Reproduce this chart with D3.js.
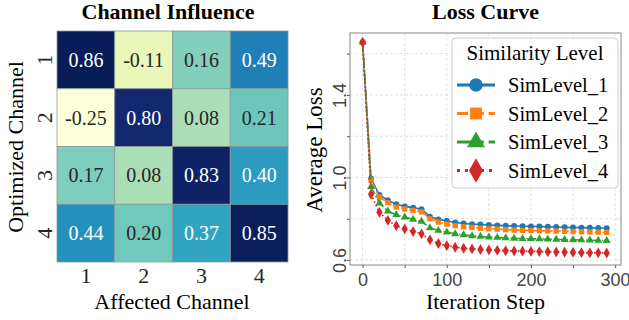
<!DOCTYPE html>
<html>
<head>
<meta charset="utf-8">
<script src="https://cdn.jsdelivr.net/npm/d3@7"></script>
<style>
  body { margin: 0; background: #fff; }
  svg { display: block; }
</style>
</head>
<body>
<svg id="chart"></svg>
<script>
let width = 629;
let height = 320;

// heatmap data
let channels = ["1", "2", "3", "4"];
let influence = [
  [0.86, -0.11, 0.16, 0.49],
  [-0.25, 0.80, 0.08, 0.21],
  [0.17, 0.08, 0.83, 0.40],
  [0.44, 0.20, 0.37, 0.85],
];

// loss curve data
let steps = [0, 10, 20, 30, 40, 50, 60, 70, 80, 90, 100, 110, 120, 130, 140,
  150, 160, 170, 180, 190, 200, 210, 220, 230, 240, 250, 260, 270, 280, 290];
let sim1 = [1.655, 0.995, 0.915, 0.89, 0.87, 0.86, 0.854, 0.846, 0.81, 0.797,
  0.789, 0.782, 0.777, 0.774, 0.772, 0.77, 0.768, 0.766, 0.765, 0.764, 0.763,
  0.762, 0.761, 0.76, 0.759, 0.758, 0.757, 0.756, 0.755, 0.754];
let sim2 = [1.655, 0.988, 0.905, 0.878, 0.857, 0.847, 0.84, 0.833, 0.80, 0.784,
  0.774, 0.766, 0.761, 0.758, 0.754, 0.751, 0.75, 0.747, 0.745, 0.744, 0.743,
  0.742, 0.741, 0.74, 0.739, 0.738, 0.737, 0.736, 0.735, 0.734];
let sim3 = [1.655, 0.955, 0.876, 0.837, 0.82, 0.808, 0.797, 0.787, 0.756, 0.743,
  0.735, 0.727, 0.722, 0.717, 0.714, 0.711, 0.709, 0.707, 0.705, 0.704, 0.703,
  0.702, 0.701, 0.70, 0.699, 0.698, 0.697, 0.696, 0.695, 0.694];
let sim4 = [1.655, 0.919, 0.831, 0.792, 0.766, 0.751, 0.738, 0.727, 0.698, 0.68,
  0.67, 0.662, 0.657, 0.654, 0.651, 0.649, 0.647, 0.645, 0.644, 0.643, 0.642,
  0.641, 0.64, 0.639, 0.638, 0.637, 0.636, 0.635, 0.635, 0.634];
let seriesNames = ["SimLevel_1", "SimLevel_2", "SimLevel_3", "SimLevel_4"];
let seriesColors = ["#1f77b4", "#ff7f0e", "#2ca02c", "#d62728"];

let xTicks = [0, 50, 100, 150, 200, 250, 300];
let xLabels = [0, 100, 200, 300];
let yTicks = [0.6, 0.8, 1.0, 1.2, 1.4, 1.6];
let yLabels = [0.6, 1.0, 1.4];

let serif = "'Liberation Serif', 'Times New Roman', serif";
let sans = "'Liberation Sans', Arial, sans-serif";

let svg = d3.select("#chart").attr("width", width).attr("height", height);

// ---------- heatmap ----------
let hx = d3.scaleBand().domain(channels).range([57, 288]);
let hy = d3.scaleBand().domain(channels).range([31, 262]);
let flat = [];
influence.forEach((row, i) => row.forEach((v, j) => flat.push({ r: channels[i], c: channels[j], v: v })));
let color = d3.scaleSequential(d3.interpolateYlGnBu)
  .domain([d3.min(flat, (d) => d.v), d3.max(flat, (d) => d.v)]);

let luminance = (c) => {
  let rgb = d3.rgb(c);
  let f = (x) => {
    x = x / 255;
    return x <= 0.03928 ? x / 12.92 : Math.pow((x + 0.055) / 1.055, 2.4);
  };
  return 0.2126 * f(rgb.r) + 0.7152 * f(rgb.g) + 0.0722 * f(rgb.b);
};

let heat = svg.append("g");
heat.selectAll("rect")
  .data(flat)
  .enter()
  .append("rect")
  .attr("x", (d) => hx(d.c))
  .attr("y", (d) => hy(d.r))
  .attr("width", hx.bandwidth())
  .attr("height", hy.bandwidth())
  .attr("fill", (d) => color(d.v))
  .attr("stroke", "#8a9a9a")
  .attr("stroke-width", 0.8);

heat.selectAll("text")
  .data(flat)
  .enter()
  .append("text")
  .attr("x", (d) => hx(d.c) + hx.bandwidth() / 2)
  .attr("y", (d) => hy(d.r) + hy.bandwidth() / 2)
  .attr("dy", "0.35em")
  .attr("text-anchor", "middle")
  .attr("font-family", serif)
  .attr("font-size", 20)
  .attr("fill", (d) => (luminance(color(d.v)) > 0.408 ? "#262626" : "#ffffff"))
  .text((d) => d.v.toFixed(2));

let hxAxis = d3.axisBottom(hx).tickSize(0);
let gx = svg.append("g").attr("transform", "translate(0,262)").call(hxAxis);
gx.select(".domain").remove();
gx.selectAll("text")
  .attr("font-family", serif).attr("font-size", 22).attr("fill", "#262626")
  .attr("y", 21).attr("dy", 0);

let hyAxis = d3.axisLeft(hy).tickSize(0).tickPadding(0);
let gy = svg.append("g").attr("transform", "translate(57,0)").call(hyAxis);
gy.select(".domain").remove();
gy.selectAll("text")
  .attr("font-family", serif).attr("font-size", 22).attr("fill", "#262626")
  .attr("text-anchor", "middle")
  .attr("x", 0).attr("y", 0).attr("dy", 0)
  .attr("dominant-baseline", "central")
  .attr("transform", "translate(-13,0) rotate(-90)");

svg.append("text")
  .attr("x", 168).attr("y", 19)
  .attr("text-anchor", "middle")
  .attr("font-family", serif).attr("font-size", 22).attr("font-weight", "bold")
  .text("Channel Influence");
svg.append("text")
  .attr("x", 172).attr("y", 309)
  .attr("text-anchor", "middle")
  .attr("font-family", serif).attr("font-size", 22)
  .text("Affected Channel");
svg.append("text")
  .attr("transform", "translate(23,147) rotate(-90)")
  .attr("text-anchor", "middle")
  .attr("font-family", serif).attr("font-size", 22)
  .text("Optimized Channel");

// ---------- loss curve ----------
let pLeft = 350, pRight = 621, pTop = 33, pBottom = 265;
let xScale = d3.scaleLinear().domain([-15, 307]).range([pLeft, pRight]);
let yScale = d3.scaleLinear().domain([0.576, 1.70]).range([pBottom, pTop]);

let plot = svg.append("g");
plot.selectAll(".vgrid")
  .data(xTicks)
  .enter()
  .append("line")
  .attr("x1", (d) => xScale(d)).attr("x2", (d) => xScale(d))
  .attr("y1", pTop).attr("y2", pBottom)
  .attr("stroke", "#d9d9d9").attr("stroke-width", 0.8).attr("stroke-dasharray", "3,2");
plot.selectAll(".hgrid")
  .data(yTicks)
  .enter()
  .append("line")
  .attr("y1", (d) => yScale(d)).attr("y2", (d) => yScale(d))
  .attr("x1", pLeft).attr("x2", pRight)
  .attr("stroke", "#d9d9d9").attr("stroke-width", 0.8).attr("stroke-dasharray", "3,2");

let xAxis = d3.axisBottom(xScale).tickValues(xTicks).tickSize(3)
  .tickFormat((d) => (xLabels.includes(d) ? d : ""));
let ax = svg.append("g").attr("transform", "translate(0," + pBottom + ")").call(xAxis);
ax.select(".domain").remove();
ax.selectAll("line").attr("stroke", "#555");
ax.selectAll("text")
  .attr("font-family", sans).attr("font-size", 18).attr("fill", "#444")
  .attr("y", 21).attr("dy", 0);

let yAxis = d3.axisLeft(yScale).tickValues(yTicks).tickSize(3)
  .tickFormat((d) => (yLabels.some((l) => Math.abs(l - d) < 1e-6) ? d3.format(".1f")(d) : ""));
let ay = svg.append("g").attr("transform", "translate(" + pLeft + ",0)").call(yAxis);
ay.select(".domain").remove();
ay.selectAll("line").attr("stroke", "#555");
ay.selectAll("text")
  .attr("font-family", sans).attr("font-size", 18).attr("fill", "#444")
  .attr("text-anchor", "middle").attr("dy", 0).attr("x", 0)
  .attr("dominant-baseline", "central")
  .attr("transform", "translate(-10,0) rotate(-90)");

svg.append("rect")
  .attr("x", pLeft).attr("y", pTop)
  .attr("width", pRight - pLeft).attr("height", pBottom - pTop)
  .attr("fill", "none").attr("stroke", "#888").attr("stroke-width", 1);

let dashes = [null, "5.5,2.4", "9.6,2.4,1.5,2.4", "1.5,2.5"];
let legendDashes = [null, "11,4.8", "19,4.8,3,4.8", "3,5"];
let symbols = [d3.symbolCircle, d3.symbolSquare, d3.symbolTriangle, d3.symbolDiamond];
let allSeries = [sim1, sim2, sim3, sim4];

let line = d3.line().x((d, i) => xScale(steps[i])).y((d) => yScale(d));

allSeries.forEach((vals, k) => {
  plot.append("path")
    .attr("d", line(vals))
    .attr("fill", "none")
    .attr("stroke", seriesColors[k])
    .attr("stroke-width", 1.6)
    .attr("stroke-dasharray", dashes[k]);
  plot.selectAll(".m" + k)
    .data(vals)
    .enter()
    .append("path")
    .attr("transform", (d, i) => "translate(" + xScale(steps[i]) + "," + yScale(d) + ")")
    .attr("d", d3.symbol().type(symbols[k]).size(k === 3 ? 34 : 28))
    .attr("fill", seriesColors[k]);
});

// legend
let lg = svg.append("g");
lg.append("rect")
  .attr("x", 452).attr("y", 38).attr("width", 166).attr("height", 150)
  .attr("rx", 4)
  .attr("fill", "#fff").attr("fill-opacity", 0.85)
  .attr("stroke", "#cccccc").attr("stroke-width", 1);
lg.append("text")
  .attr("x", 535).attr("y", 60)
  .attr("text-anchor", "middle")
  .attr("font-family", serif).attr("font-size", 21)
  .text("Similarity Level");
seriesNames.forEach((name, k) => {
  let yy = 85 + k * 28.5;
  lg.append("line")
    .attr("x1", 457).attr("x2", 495).attr("y1", yy).attr("y2", yy)
    .attr("stroke", seriesColors[k]).attr("stroke-width", 3)
    .attr("stroke-dasharray", legendDashes[k]);
  lg.append("path")
    .attr("transform", "translate(476," + yy + ")")
    .attr("d", d3.symbol().type(symbols[k]).size(k === 3 ? 170 : 140))
    .attr("fill", seriesColors[k]);
  lg.append("text")
    .attr("x", 508).attr("y", yy)
    .attr("dy", "0.35em")
    .attr("font-family", serif).attr("font-size", 20.5)
    .text(name);
});

svg.append("text")
  .attr("x", 485.5).attr("y", 19)
  .attr("text-anchor", "middle")
  .attr("font-family", serif).attr("font-size", 22).attr("font-weight", "bold")
  .text("Loss Curve");
svg.append("text")
  .attr("x", 485.5).attr("y", 309)
  .attr("text-anchor", "middle")
  .attr("font-family", serif).attr("font-size", 22)
  .text("Iteration Step");
svg.append("text")
  .attr("transform", "translate(322,150) rotate(-90)")
  .attr("text-anchor", "middle")
  .attr("font-family", serif).attr("font-size", 23)
  .text("Average Loss");
</script>
</body>
</html>
